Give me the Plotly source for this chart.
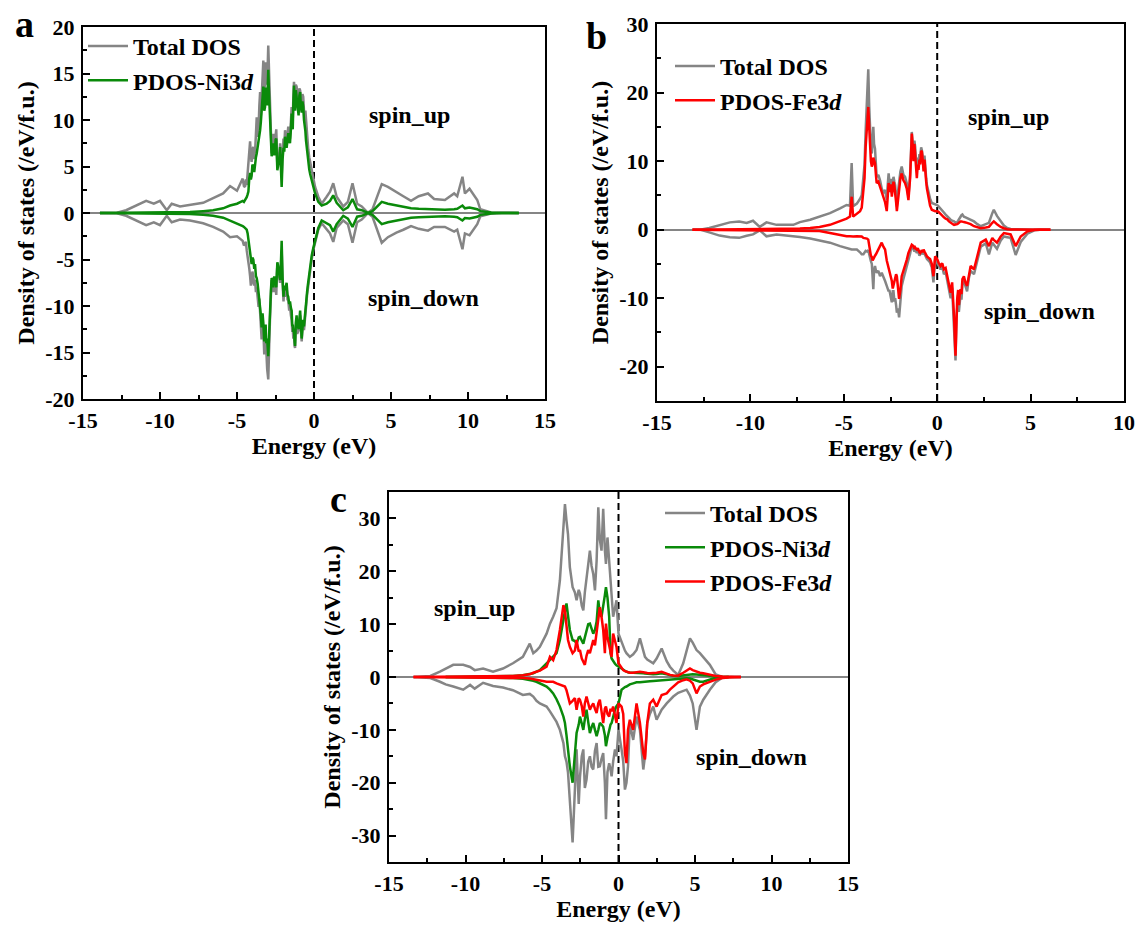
import plotly.graph_objects as go

SERIF = "Liberation Serif, Times New Roman, serif"
GRAY = "#858585"
GREEN = "#0a8a0a"
RED = "#ff0000"

# ---------------- panel a : Ni 3d ----------------
energy_a = [-13.9, -12.8, -12.2, -11.7, -11.3, -10.9, -10.4, -10.0, -9.56, -9.24,
            -8.7, -8.05, -7.2, -6.55, -5.9, -5.45, -5.0,
            -4.63, -4.55, -4.48, -4.42, -4.37, -4.31, -4.26, -4.2, -4.15, -4.1,
            -4.05, -4.0, -3.94, -3.88, -3.83, -3.77, -3.72, -3.66, -3.6, -3.55,
            -3.5, -3.45, -3.4, -3.34, -3.29, -3.23, -3.18, -3.14, -3.1, -3.04,
            -2.97, -2.92, -2.86, -2.8, -2.75, -2.7, -2.64, -2.58, -2.53, -2.49,
            -2.45, -2.41, -2.38, -2.34, -2.3, -2.25, -2.2, -2.15, -2.1, -2.04,
            -1.98, -1.93, -1.88, -1.83, -1.78, -1.72, -1.67, -1.61, -1.56, -1.5,
            -1.45, -1.41, -1.38, -1.34, -1.3, -1.26, -1.23, -1.18, -1.13, -1.09,
            -1.05, -1.0, -0.95, -0.9, -0.85, -0.8, -0.75, -0.7, -0.65, -0.6,
            -0.56, -0.52, -0.48, -0.45, -0.41, -0.37, -0.31, -0.25, -0.2, -0.15,
            -0.05, 0.07,
            0.28, 0.5, 0.82, 1.04, 1.25, 1.47, 1.9, 2.2, 2.5, 2.8,
            3.1, 3.5, 3.8, 4.4, 4.8, 5.35, 5.8, 6.3, 6.8, 7.4,
            7.8, 8.5, 9.1, 9.3, 9.64, 9.8, 10.1, 10.6, 10.8, 11.5,
            12.2, 13.3]
tdos_up_a = [0, 0.02, 0.3, 0.7, 1.0, 1.3, 1.0, 1.3, 0.3, 1.0,
             0.7, 0.85, 1.1, 1.6, 2.1, 2.9, 2.4,
             3.7, 2.9, 2.8, 3.6, 3.0, 4.2, 5.3, 6.5, 7.7, 6.2,
             5.5, 6.8, 7.1, 5.8, 6.5, 8.5, 10.3, 8.2, 9.0, 11.5,
             13.0, 10.5, 12.0, 14.5, 16.4, 13.0, 14.0, 16.2, 15.0, 13.8,
             18.0, 14.5, 11.8, 8.8, 6.4, 7.6, 8.5, 7.0, 7.8, 8.6,
             9.0, 6.8, 5.0, 5.8, 6.5, 6.0, 7.5, 5.5, 3.9, 6.5,
             8.0, 7.2, 8.9, 8.2, 7.5, 8.4, 9.3, 8.6, 8.0, 9.8,
             11.4, 10.2, 10.0, 12.5, 14.1, 13.2, 12.0, 13.8, 13.6, 12.8,
             12.0, 12.5, 13.4, 13.2, 12.2, 11.5, 12.8, 12.5, 11.0, 10.5,
             11.0, 10.0, 8.6, 8.0, 7.4, 6.8, 6.0, 5.5, 5.0, 4.6,
             3.8, 2.8,
             1.75, 1.0, 1.75, 2.3, 3.2, 1.75, 0.7, 1.2, 3.2, 1.0,
             0.7, 0.02, 0.4, 3.1, 2.8, 2.3, 1.8, 1.3, 1.8, 2.1,
             1.5, 1.4, 2.1, 1.8, 3.9, 2.1, 2.6, 1.4, 0.4, 0.05,
             0, 0]
tdos_dn_a = [0, -0.02, -0.3, -0.7, -1.0, -1.3, -1.0, -1.3, -0.3, -1.0,
             -0.7, -0.8, -1.1, -1.5, -2.0, -2.6, -2.5,
             -3.0, -3.5, -3.3, -3.1, -4.0, -4.6, -5.5, -6.0, -6.8, -7.8,
             -7.5, -6.3, -6.8, -7.8, -7.2, -8.5, -8.0, -9.5, -10.1, -9.2,
             -11.0, -12.8, -13.6, -11.8, -12.5, -15.2, -14.7, -13.2, -16.0, -16.8,
             -17.9, -14.0, -11.5, -9.0, -7.2, -7.8, -8.5, -7.0, -7.9, -8.4,
             -8.8, -6.6, -5.6, -6.0, -6.5, -7.0, -7.5, -5.8, -4.0, -7.5,
             -9.5, -8.2, -9.0, -8.7, -8.0, -9.3, -9.4, -10.5, -10.0, -11.0,
             -11.5, -12.8, -12.5, -13.5, -13.0, -14.3, -14.5, -12.2, -11.5, -13.0,
             -12.8, -12.6, -11.6, -11.0, -12.6, -13.8, -12.5, -12.0, -12.6, -11.8,
             -11.4, -10.8, -9.4, -8.8, -8.2, -7.6, -6.8, -6.0, -5.4, -5.0,
             -4.0, -3.2,
             -1.8, -1.1, -1.8, -2.2, -3.1, -1.6, -0.8, -1.2, -3.2, -1.0,
             -0.7, -0.02, -0.4, -3.2, -2.6, -2.1, -1.8, -1.4, -1.7, -1.9,
             -1.5, -1.5, -2.0, -1.8, -3.9, -2.2, -2.4, -1.2, -0.35, -0.05,
             0, 0]
ni_up_a = [0, 0.01, 0.02, 0.03, 0.04, 0.05, 0.05, 0.06, 0.06, 0.07,
           0.08, 0.1, 0.2, 0.3, 0.5, 0.8, 1.0,
           1.3, 1.2, 1.4, 1.5, 1.7, 2.0, 2.3, 3.8, 4.3, 3.6,
           4.0, 5.2, 5.0, 4.4, 5.5, 6.0, 6.4, 7.0, 7.5, 8.2,
           8.9, 9.8, 11.0, 12.2, 13.6, 11.0, 11.4, 13.5, 12.0, 11.6,
           15.4, 12.8, 10.0, 7.8, 6.1, 6.8, 7.5, 6.2, 6.8, 7.9,
           8.0, 6.0, 4.6, 5.0, 5.5, 5.8, 7.1, 5.0, 2.8, 5.8,
           7.0, 6.6, 8.2, 7.5, 7.0, 7.8, 8.6, 7.9, 7.5, 9.0,
           10.7, 9.4, 9.0, 11.8, 13.7, 12.0, 11.0, 13.2, 12.5, 11.8,
           11.5, 10.5, 12.6, 13.0, 11.4, 10.8, 12.0, 11.4, 10.0, 9.5,
           8.8, 7.8, 7.2, 6.5, 5.8, 5.3, 4.7, 4.2, 3.9, 3.5,
           2.8, 2.1,
           1.2, 0.8, 1.0, 1.3, 1.9, 1.1, 0.3, 0.6, 1.5, 0.4,
           0.3, 0.0, 0.2, 1.2, 1.0, 0.8, 0.6, 0.5, 0.45, 0.4,
           0.35, 0.35, 0.4, 0.45, 0.8, 0.5, 0.6, 0.4, 0.2, 0.05,
           0.01, 0]
ni_dn_a = [0, -0.01, -0.02, -0.03, -0.04, -0.05, -0.05, -0.06, -0.06, -0.07,
           -0.08, -0.1, -0.2, -0.3, -0.5, -0.8, -1.1,
           -1.4, -1.5, -1.6, -1.7, -1.8, -2.2, -2.8, -3.6, -4.3, -5.2,
           -5.5, -4.8, -5.0, -6.0, -5.5, -6.8, -7.0, -7.6, -8.5, -9.0,
           -10.0, -11.0, -12.3, -10.8, -11.8, -13.8, -13.0, -12.0, -14.0, -13.5,
           -15.4, -12.6, -10.5, -8.4, -7.0, -7.2, -8.0, -6.8, -7.5, -7.2,
           -8.0, -6.2, -5.3, -5.6, -6.0, -6.8, -7.2, -5.5, -3.0, -7.0,
           -9.0, -7.8, -8.3, -8.0, -7.5, -8.8, -9.0, -9.8, -9.5, -10.2,
           -10.5, -12.2, -12.0, -12.8, -12.5, -13.8, -14.3, -11.8, -11.0, -12.3,
           -12.0, -12.5, -11.0, -10.5, -12.0, -13.5, -12.4, -11.5, -12.2, -11.0,
           -10.8, -10.0, -9.2, -8.5, -7.9, -7.3, -6.5, -5.8, -5.2, -4.6,
           -3.8, -3.1,
           -1.6, -0.8, -1.1, -1.3, -2.0, -1.2, -0.3, -0.6, -1.5, -0.4,
           -0.3, 0.0, -0.2, -1.2, -1.0, -0.8, -0.6, -0.5, -0.45, -0.4,
           -0.35, -0.35, -0.4, -0.45, -0.8, -0.55, -0.6, -0.4, -0.2, -0.05,
           -0.01, 0]

# ---------------- panel b : Fe 3d ----------------
energy_b = [-13.1, -12.7, -12.2, -11.65, -11.1, -10.6, -10.2, -9.86, -9.5, -9.14,
            -8.6, -7.7, -7.35, -6.8, -6.3, -5.74, -5.2, -4.85, -4.67, -4.58,
            -4.5, -4.3,
            -4.13, -4.04, -3.95, -3.89, -3.83, -3.76, -3.69, -3.64, -3.6, -3.55,
            -3.5, -3.46, -3.42, -3.38, -3.33, -3.28, -3.24, -3.15, -3.06, -2.97,
            -2.88, -2.79, -2.7, -2.65, -2.6, -2.56, -2.52, -2.47, -2.43, -2.38,
            -2.34, -2.29, -2.25, -2.2, -2.16, -2.1, -2.04, -1.97, -1.9, -1.81,
            -1.72, -1.63, -1.54, -1.45, -1.4, -1.36, -1.31, -1.27, -1.22, -1.18,
            -1.13, -1.09, -1.04, -1.0, -0.95, -0.91, -0.86, -0.82, -0.77, -0.73,
            -0.68, -0.64, -0.59, -0.55, -0.47, -0.38, -0.29, -0.2, -0.11, 0.0,
            0.07, 0.18, 0.27, 0.36, 0.45, 0.54, 0.63, 0.72, 0.8, 0.86,
            0.9, 0.98, 1.03, 1.07, 1.12, 1.16, 1.2, 1.25, 1.3, 1.35,
            1.43, 1.52, 1.6, 1.7, 1.79,
            1.97, 2.15, 2.33, 2.6, 2.77, 2.95, 3.03, 3.2, 3.4, 3.57,
            3.75, 3.93, 4.2, 4.47, 4.83, 5.2, 5.5, 6.06]
tdos_up_b = [0, 0, 0.25, 0.7, 1.06, 1.2, 0.97, 1.3, 0.4, 1.06,
             0.7, 0.7, 1.1, 1.45, 1.9, 2.4, 3.1, 3.6, 3.5, 9.7,
             3.4, 3.8,
             4.5, 5.0, 7.7, 9.5, 14.5, 19.0, 23.4, 18.0, 14.5, 12.0,
             11.1, 13.0, 15.0, 12.5, 11.8, 9.5, 7.7, 8.0, 7.2, 6.0,
             5.3, 5.8, 4.3, 6.5, 8.2, 7.0, 6.5, 7.4, 5.3, 6.8,
             7.7, 7.0, 6.5, 4.8, 3.4, 5.5, 7.2, 8.5, 9.2, 8.0,
             7.7, 6.8, 4.8, 8.0, 11.5, 14.25, 12.5, 11.0, 13.0, 12.1,
             10.0, 8.5, 10.5, 9.7, 11.0, 10.5, 12.0, 11.6, 10.5, 9.0,
             10.8, 8.7, 7.5, 6.5, 5.3, 4.5, 3.9, 3.8, 3.7, 3.6,
             3.4, 3.0, 2.8, 2.5, 2.2, 1.9, 1.6, 1.45, 1.3, 1.25,
             1.2, 1.0, 1.05, 1.1, 1.3, 1.5, 1.7, 1.9, 2.1, 2.2,
             1.9, 1.8, 1.7, 1.5, 1.4,
             1.2, 0.8, 0.5, 0.8, 1.0, 2.4, 2.9, 2.0, 1.2, 0.6,
             0.25, 0.1, 0.05, 0.02, 0, 0, 0, 0]
tdos_dn_b = [0, 0, -0.4, -0.87, -1.1, -1.2, -0.9, -0.7, -0.1, -0.97,
             -0.7, -0.9, -1.06, -1.3, -1.6, -1.9, -2.4, -2.7, -2.9, -2.9,
             -2.9, -2.9,
             -3.3, -3.6, -3.6, -3.3, -3.1, -3.2, -3.0, -3.6, -4.3, -4.6,
             -5.0, -6.5, -8.7, -6.0, -5.3, -6.0, -6.3, -6.0, -6.8, -6.3,
             -6.8, -7.5, -8.2, -8.6, -9.0, -8.8, -9.5, -10.0, -10.6, -9.0,
             -9.0, -10.5, -10.0, -11.0, -12.1, -11.5, -12.8, -10.5, -8.2, -7.2,
             -6.3, -5.5, -4.8, -3.5, -2.8, -2.4, -2.6, -2.8, -3.2, -3.0,
             -3.3, -3.4, -3.0, -3.5, -3.8, -3.6, -3.4, -3.2, -3.6, -3.4,
             -3.5, -3.8, -4.1, -4.3, -4.5, -4.8, -5.5, -7.7, -4.3, -4.8,
             -5.3, -5.8, -5.4, -6.5, -6.2, -7.5, -8.5, -10.0, -8.5, -11.5,
             -13.5, -19.1, -13.0, -11.0, -9.5, -12.0, -10.5, -9.5, -10.2, -8.0,
             -7.5, -8.5, -9.0, -7.0, -6.0,
             -6.5, -4.6, -2.5, -2.0, -3.6, -1.9, -2.2, -2.8, -1.6, -1.0,
             -1.1, -1.2, -3.7, -1.8, -0.6, -0.1, 0, 0]
fe_up_b = [0, 0.01, 0.02, 0.03, 0.04, 0.05, 0.05, 0.06, 0.06, 0.07,
           0.08, 0.12, 0.15, 0.25, 0.4, 0.7, 1.2, 1.6, 1.9, 4.8,
           1.9, 2.3,
           2.7, 3.2, 5.3, 7.5, 12.1, 15.5, 17.9, 15.0, 12.1, 10.0,
           9.2, 9.5, 10.5, 10.2, 9.7, 8.0, 6.8, 7.0, 6.3, 5.5,
           4.6, 4.0, 2.7, 5.2, 6.8, 6.0, 5.5, 6.6, 4.8, 6.0,
           7.0, 6.3, 5.5, 4.0, 2.7, 4.6, 6.3, 7.5, 8.2, 7.2,
           6.8, 6.0, 4.3, 7.5, 11.0, 14.0, 12.2, 10.0, 12.5, 11.1,
           9.0, 7.5, 9.5, 8.7, 10.2, 9.5, 11.5, 11.4, 10.0, 8.5,
           10.2, 8.2, 7.0, 6.0, 4.6, 3.5, 2.9, 2.8, 2.7, 2.7,
           2.6, 2.3, 2.0, 1.8, 1.6, 1.5, 1.2, 0.97, 0.85, 0.75,
           0.7, 0.7, 0.75, 0.8, 0.9, 1.0, 1.1, 1.2, 1.2, 1.2,
           1.1, 1.05, 1.0, 0.9, 0.8,
           0.5, 0.3, 0.2, 0.3, 0.4, 1.0, 1.2, 0.8, 0.4, 0.2,
           0.05, 0.03, 0.02, 0.01, 0.01, 0, 0, 0]
fe_dn_b = [0, -0.01, -0.02, -0.03, -0.04, -0.05, -0.05, -0.05, -0.06, -0.06,
           -0.07, -0.1, -0.12, -0.15, -0.2, -0.5, -0.8, -0.97, -0.97, -1.0,
           -1.0, -0.97,
           -0.97, -1.0, -1.2, -1.2, -1.3, -1.3, -1.45, -2.6, -3.4, -3.8,
           -4.0, -4.5, -4.3, -4.0, -3.8, -3.6, -3.4, -2.9, -2.5, -1.9,
           -2.5, -2.9, -4.5, -5.0, -5.5, -5.8, -6.3, -7.0, -7.5, -8.6,
           -8.2, -7.5, -7.0, -6.5, -6.8, -8.5, -10.1, -8.8, -6.8, -6.0,
           -5.3, -4.4, -3.4, -2.8, -2.4, -2.2, -2.3, -2.4, -2.8, -2.6,
           -2.8, -2.9, -2.7, -3.1, -3.3, -3.4, -3.1, -3.0, -3.3, -2.9,
           -3.2, -3.5, -3.7, -3.9, -4.1, -4.3, -5.0, -6.8, -3.9, -4.3,
           -4.8, -5.3, -4.9, -5.8, -5.6, -6.8, -7.5, -9.2, -7.7, -10.5,
           -12.6, -18.4, -12.2, -10.1, -8.8, -11.0, -9.6, -8.7, -9.4, -7.2,
           -6.8, -7.8, -8.2, -6.4, -5.3,
           -5.8, -3.9, -1.9, -1.45, -2.4, -1.2, -1.5, -1.9, -1.0, -0.5,
           -0.6, -0.7, -2.4, -1.0, -0.25, -0.05, -0.02, 0]

# ---------------- panel c : Ni 3d + Fe 3d ----------------
energy_c = [-13.4, -12.3, -11.67, -11.3, -10.8, -10.15, -9.7, -9.4, -8.85, -8.2,
            -7.55, -6.9, -6.25, -5.8, -5.57, -5.36, -5.14, -4.7, -4.48, -4.27,
            -4.05, -3.83, -3.6, -3.5, -3.4, -3.3, -3.18, -3.0, -2.85, -2.74,
            -2.6, -2.52, -2.4, -2.3, -2.2, -2.09, -1.98, -1.87, -1.76, -1.65,
            -1.54, -1.43, -1.32, -1.22, -1.11, -1.0, -0.89, -0.82, -0.72, -0.61,
            -0.52, -0.45, -0.35, -0.23, -0.13, 0.0, 0.2, 0.31, 0.42, 0.52,
            0.62, 0.74, 0.96, 1.18, 1.4, 1.62, 1.73, 1.88, 2.05, 2.27,
            2.49, 2.82, 3.15, 3.36, 3.58, 3.9, 4.23, 4.45, 4.67, 4.85,
            5.1, 5.32, 5.54, 5.97, 6.35, 6.8, 7.2, 8.0]
tdos_up_c = [0, 0.2, 1.0, 1.6, 2.3, 2.3, 1.9, 1.3, 1.6, 1.0,
             1.6, 2.6, 3.8, 6.3, 4.5, 5.0, 5.7, 8.2, 10.1, 11.4,
             13.0, 18.3, 28.9, 32.7, 29.6, 27.0, 20.8, 17.0, 16.0, 14.5,
             16.5, 15.8, 13.5, 12.6, 16.0, 18.9, 21.5, 23.9, 21.0, 19.5,
             16.4, 22.0, 32.1, 26.0, 23.9, 31.8, 24.0, 21.4, 26.4, 22.0,
             17.0, 14.0, 11.4, 13.0, 14.5, 8.2, 6.5, 5.7, 5.0, 4.5,
             4.2, 3.8, 4.3, 5.1, 7.3, 5.0, 3.8, 3.3, 3.0, 2.6,
             3.5, 5.4, 3.0, 1.95, 1.2, 0.4, 2.6, 5.0, 7.3, 6.5,
             5.1, 4.5, 3.8, 2.3, 0.5, 0.02, 0, 0]
tdos_dn_c = [0, -0.2, -0.9, -1.4, -1.8, -2.4, -1.5, -2.2, -1.1, -1.7,
             -2.0, -2.5, -3.4, -3.2, -3.7, -4.5, -5.0, -5.6, -6.5, -7.5,
             -8.5, -10.0, -12.5, -15.0, -16.0, -18.1, -24.4, -31.3, -21.3, -13.7,
             -24.0, -19.0, -15.0, -13.7, -21.0, -19.4, -16.0, -15.0, -17.0, -17.5,
             -14.0, -12.5, -17.0, -16.9, -15.5, -14.4, -20.0, -26.9, -18.0, -16.3,
             -17.5, -18.8, -16.0, -13.7, -15.0, -10.0, -13.7, -16.0, -21.3, -20.0,
             -16.9, -8.7, -11.9, -7.5, -10.0, -17.5, -15.0, -8.7, -7.0, -5.6,
             -8.1, -6.2, -5.0, -4.3, -3.7, -3.0, -2.6, -2.4, -3.5, -5.0,
             -10.0, -5.6, -4.3, -2.4, -1.0, -0.1, 0, 0]
ni_up_c = [None, None, None, 0.01, 0.02, 0.03, 0.05, 0.06, 0.08, 0.1,
           0.15, 0.2, 0.35, 0.55, 0.7, 1.0, 1.3, 2.6, 3.3, 3.8,
           4.5, 7.0, 11.4, 12.5, 13.9, 11.0, 8.9, 7.0, 6.8, 6.3,
           7.5, 7.6, 6.8, 6.3, 7.5, 8.9, 10.0, 10.1, 9.0, 8.2,
           8.9, 10.5, 14.5, 12.0, 11.4, 13.2, 15.5, 17.0, 15.0, 11.4,
           4.5, 3.5, 2.9, 2.5, 2.2, 1.95, 1.5, 1.3, 1.1, 1.0,
           0.9, 0.8, 0.8, 0.8, 0.8, 0.7, 0.65, 0.6, 0.55, 0.5,
           0.55, 0.7, 0.5, 0.35, 0.25, 0.2, 0.35, 0.45, 0.56, 0.5,
           0.45, 0.4, 0.3, 0.15, 0.05, 0.01, 0, None]
ni_dn_c = [None, None, None, -0.01, -0.02, -0.03, -0.04, -0.05, -0.07, -0.1,
           -0.15, -0.2, -0.35, -0.5, -0.7, -0.9, -1.2, -1.8, -2.4, -3.1,
           -4.2, -5.6, -7.5, -8.7, -11.0, -13.7, -16.9, -20.0, -14.4, -10.6,
           -9.0, -7.5, -8.8, -10.0, -8.0, -6.2, -8.5, -10.6, -9.5, -8.7,
           -10.0, -11.2, -10.0, -8.7, -9.0, -9.4, -11.0, -13.1, -11.5, -10.0,
           -9.0, -8.7, -7.5, -6.2, -5.5, -5.0, -2.4, -2.1, -1.9, -1.8,
           -1.6, -1.4, -1.2, -1.0, -1.0, -0.9, -0.9, -0.85, -0.8, -0.75,
           -0.7, -0.6, -0.5, -0.45, -0.35, -0.25, -0.25, -0.25, -0.3, -0.5,
           -0.8, -0.9, -0.9, -0.55, -0.15, -0.03, 0, None]
fe_up_c = [0, 0.02, 0.03, 0.04, 0.05, 0.05, 0.06, 0.07, 0.08, 0.1,
           0.15, 0.2, 0.35, 0.5, 0.8, 1.0, 1.2, 1.95, 3.8, 3.2,
           5.1, 8.9, 13.6, 12.5, 8.9, 7.0, 5.7, 4.5, 5.0, 7.0,
           4.8, 5.1, 3.5, 3.0, 2.3, 4.0, 5.1, 4.5, 5.7, 7.0,
           6.0, 8.9, 11.0, 13.2, 11.4, 8.9, 4.5, 10.1, 7.5, 5.7,
           4.5, 3.8, 8.2, 6.5, 5.7, 2.6, 1.6, 1.3, 1.1, 1.0,
           0.9, 0.8, 0.8, 0.9, 1.0, 0.9, 0.8, 0.75, 0.7, 0.7,
           0.8, 1.0, 0.6, 0.4, 0.3, 0.25, 0.8, 1.2, 1.6, 1.3,
           1.0, 0.8, 0.7, 0.4, 0.2, 0.08, 0.03, 0]
fe_dn_c = [0, -0.02, -0.03, -0.04, -0.05, -0.05, -0.06, -0.06, -0.07, -0.08,
           -0.1, -0.12, -0.2, -0.3, -0.45, -0.55, -0.7, -0.9, -0.9, -0.9,
           -1.2, -1.5, -1.7, -1.8, -2.5, -3.5, -5.0, -4.5, -4.0, -6.2,
           -4.0, -4.3, -5.5, -7.5, -5.0, -3.7, -5.0, -6.2, -5.5, -5.0,
           -6.0, -6.8, -5.0, -4.3, -6.5, -8.7, -6.0, -5.6, -7.0, -7.5,
           -6.0, -6.5, -5.6, -7.0, -8.7, -5.0, -5.6, -7.0, -14.4, -16.3,
           -10.0, -8.1, -10.0, -5.0, -8.7, -14.4, -15.6, -8.7, -5.0, -4.3,
           -5.6, -3.4, -3.1, -2.4, -1.8, -1.0, -0.6, -0.45, -0.7, -1.2,
           -3.1, -1.8, -1.4, -0.9, -0.5, -0.2, -0.08, 0]

# ---------------- axis ticks ----------------
xticks_a = [-15, -10, -5, 0, 5, 10, 15]
yticks_a = [-20, -15, -10, -5, 0, 5, 10, 15, 20]
xticks_b = [-15, -10, -5, 0, 5, 10]
yticks_b = [-20, -10, 0, 10, 20, 30]
xticks_c = [-15, -10, -5, 0, 5, 10, 15]
yticks_c = [-30, -20, -10, 0, 10, 20, 30]

fig = go.Figure()


def add_pair(x, up, dn, name, color, xa, ya, legend):
    line = dict(color=color, width=2.5)
    fig.add_trace(go.Scatter(x=x, y=up, mode="lines", name=name, line=line,
                             xaxis=xa, yaxis=ya, legend=legend, showlegend=True))
    fig.add_trace(go.Scatter(x=x, y=dn, mode="lines", name=name, line=line,
                             xaxis=xa, yaxis=ya, legend=legend, showlegend=False))


add_pair(energy_a, tdos_up_a, tdos_dn_a, "Total DOS", GRAY, "x", "y", "legend")
add_pair(energy_a, ni_up_a, ni_dn_a, "PDOS-Ni3<i>d</i>", GREEN, "x", "y", "legend")

add_pair(energy_b, tdos_up_b, tdos_dn_b, "Total DOS", GRAY, "x2", "y2", "legend2")
add_pair(energy_b, fe_up_b, fe_dn_b, "PDOS-Fe3<i>d</i>", RED, "x2", "y2", "legend2")

add_pair(energy_c, tdos_up_c, tdos_dn_c, "Total DOS", GRAY, "x3", "y3", "legend3")
add_pair(energy_c, ni_up_c, ni_dn_c, "PDOS-Ni3<i>d</i>", GREEN, "x3", "y3", "legend3")
add_pair(energy_c, fe_up_c, fe_dn_c, "PDOS-Fe3<i>d</i>", RED, "x3", "y3", "legend3")

W, H = 1142, 926
TICKFONT = dict(family=SERIF, size=22, color="black", weight="bold")
TITLEFONT = dict(family=SERIF, size=24, color="black", weight="bold")


def xaxis(rng, ticks, dom, anchor):
    return dict(domain=dom, anchor=anchor, range=rng, tickmode="array",
                tickvals=ticks, ticktext=[str(v) for v in ticks], automargin=False,
                showline=True, linecolor="black", linewidth=2, mirror=True,
                ticks="inside", ticklen=7, tickwidth=2, tickcolor="black",
                showgrid=False, zeroline=False, tickfont=TICKFONT,
                ticklabelstandoff=1,
                minor=dict(ticks="inside", ticklen=4, tickwidth=2,
                           tickcolor="black", tickmode="linear", tick0=0,
                           dtick=2.5, showgrid=False),
                title=dict(text="Energy (eV)", font=TITLEFONT, standoff=3))


def yaxis(rng, ticks, minor_step, dom, anchor):
    return dict(domain=dom, anchor=anchor, range=rng, tickmode="array",
                tickvals=ticks, ticktext=[str(v) for v in ticks], automargin=False,
                showline=True, linecolor="black", linewidth=2, mirror=True,
                ticks="inside", ticklen=7, tickwidth=2, tickcolor="black",
                showgrid=False, zeroline=True, zerolinecolor=GRAY,
                zerolinewidth=1.8, tickfont=TICKFONT, ticklabelstandoff=2,
                minor=dict(ticks="inside", ticklen=4, tickwidth=2,
                           tickcolor="black", tickmode="linear", tick0=0,
                           dtick=minor_step, showgrid=False),
                title=dict(text="Density of states (/eV/f.u.)", font=TITLEFONT,
                           standoff=4))


def px_x(p):
    return p / W


def px_y(p):
    return 1 - p / H


dom_a = ([px_x(83), px_x(545)], [px_y(399), px_y(27)])
dom_b = ([px_x(657), px_x(1124)], [px_y(401), px_y(24)])
dom_c = ([px_x(389), px_x(848)], [px_y(862), px_y(492)])

fig.update_layout(
    width=W, height=H, autosize=False,
    margin=dict(l=0, r=0, t=0, b=0, autoexpand=False),
    paper_bgcolor="white", plot_bgcolor="white",
    font=dict(family=SERIF, color="black", weight="bold"),
    xaxis=xaxis([-15, 15], xticks_a, dom_a[0], "y"),
    yaxis=yaxis([-20, 20], yticks_a, 2.5, dom_a[1], "x"),
    xaxis2=xaxis([-15, 10], xticks_b, dom_b[0], "y2"),
    yaxis2=yaxis([-25, 30], yticks_b, 5, dom_b[1], "x2"),
    xaxis3=xaxis([-15, 15], xticks_c, dom_c[0], "y3"),
    yaxis3=yaxis([-35, 35], yticks_c, 5, dom_c[1], "x3"),
)

legend_style = dict(font=dict(family=SERIF, size=24, color="black", weight="bold"),
                    bgcolor="rgba(0,0,0,0)", borderwidth=0, tracegroupgap=0,
                    xanchor="left", yanchor="top", itemwidth=40)
fig.update_layout(
    legend=dict(x=px_x(83), y=px_y(24), **legend_style),
    legend2=dict(x=px_x(670), y=px_y(44), **legend_style),
    legend3=dict(x=px_x(660), y=px_y(491), **legend_style),
)

# Fermi level markers
for xa, ya in (("x", "y"), ("x2", "y2"), ("x3", "y3")):
    fig.add_shape(type="line", xref=xa, yref=f"{ya} domain", x0=0, x1=0, y0=0, y1=1,
                  line=dict(color="black", width=2, dash="7px,4px"), layer="below")

label_font = dict(family=SERIF, size=24, color="black", weight="bold")
spin_labels = [
    ("spin_up", 6.2, 10.5, "x", "y"),
    ("spin_down", 7.1, -9.1, "x", "y"),
    ("spin_up", 3.8, 16.4, "x2", "y2"),
    ("spin_down", 5.5, -11.9, "x2", "y2"),
    ("spin_up", -9.4, 13.0, "x3", "y3"),
    ("spin_down", 8.7, -15.1, "x3", "y3"),
]
for text, xv, yv, xa, ya in spin_labels:
    fig.add_annotation(text=text, x=xv, y=yv, xref=xa, yref=ya, showarrow=False,
                       font=label_font, xanchor="center", yanchor="middle")

panel_font = dict(family=SERIF, size=38, color="black", weight="bold")
for letter, xp, yp in (("a", 24, 24), ("b", 596, 36), ("c", 338, 499)):
    fig.add_annotation(text=letter, x=px_x(xp), y=px_y(yp), xref="paper", yref="paper",
                       showarrow=False, font=panel_font, xanchor="center",
                       yanchor="middle")

fig.write_html("out.html")
